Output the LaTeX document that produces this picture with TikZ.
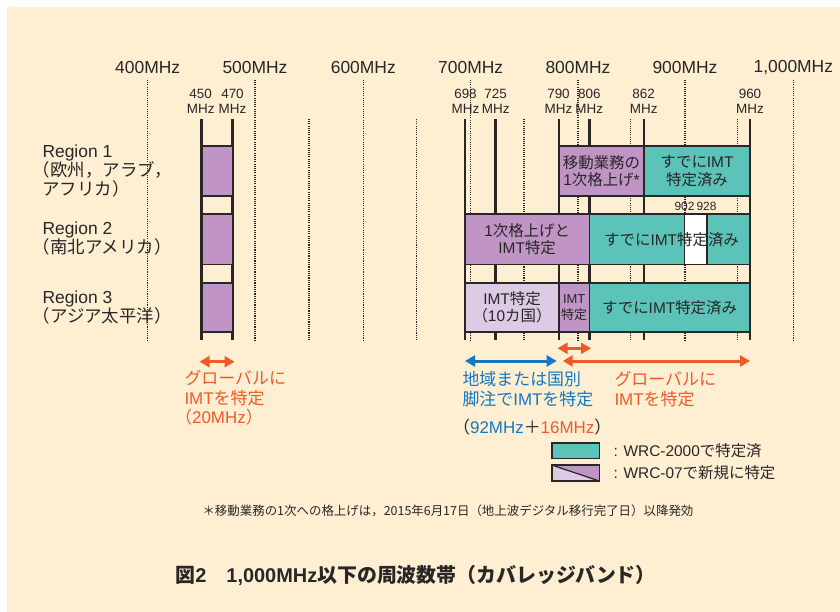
\documentclass[tikz,border=0pt]{standalone}
\usepackage{fontspec}
\setmainfont{Liberation Sans}
\newfontfamily\jp{Noto Sans CJK JP}
\usetikzlibrary{arrows.meta}
\definecolor{bg}{RGB}{254,239,211}
\definecolor{cpur}{RGB}{192,148,197}
\definecolor{cteal}{RGB}{91,195,184}
\definecolor{clav}{RGB}{221,202,228}
\definecolor{corg}{RGB}{240,90,40}
\definecolor{cblue}{RGB}{20,120,195}
\definecolor{ink}{RGB}{40,38,38}
\newcommand\fs[2]{\fontsize{#1}{#2}\selectfont}
\newcommand\bandnode[7]{\node[bandbox,#6,minimum width={(#3-#2)*1bp},minimum height={(#5-#4)*1bp}] (#1) at ({(#2+#3)/2},{(#4+#5)/2}) {#7};}
\begin{document}
\begin{tikzpicture}[x=1bp,y=-1bp,
  dotline/.style={ink, line width=1.1bp, dash pattern=on 1.1bp off 1.1bp},
  solidline/.style={ink, line width=2.6bp},
  bandbox/.style={draw=ink, line width=1.6bp, inner sep=0pt, outer sep=0pt, align=center, text=ink, font=\fs{15.5}{17.5}},
  toplbl/.style={font=\fs{17.5}{20}, text=ink},
  freqlbl/.style={font=\fs{13.5}{15}, align=center, text=ink},
  reglbl/.style={anchor=west, align=left, font=\fs{17.5}{19.5}, text=ink},
  note/.style={anchor=west, align=left, font=\fs{17}{19.5}},
  tips/.style={>={Triangle[length=10bp,width=11bp]}, <->, line width=3bp},
  legtxt/.style={anchor=west, font=\fs{15.5}{18}, text=ink}
]
\fill[white] (0,0) rectangle (840,612);
\fill[bg] (7,7) rectangle (840,612);
\useasboundingbox (0,0) rectangle (840,612);

% top frequency labels
\foreach \x/\t [count=\i] in {147.7/400MHz,255/500MHz,363.3/600MHz,470.7/700MHz,578/800MHz,685/900MHz,793.3/{1,000MHz}}
  \node[toplbl] (top\i) at (\x,68) {\t};

% grid lines
\foreach \x in {147.7,255,363.3,470.7,578,685,793.3} \draw[dotline] (\x,80) -- (\x,340);
\foreach \x in {309,416.7,524,630.7,737.7} \draw[dotline] (\x,119) -- (\x,340);
\foreach \x in {201.7,232.3,465,495.7,559,589.3,644,750} \draw[solidline] (\x,119) -- (\x,340);

% small frequency labels
\foreach \x/\f in {200.7/450,232.5/470,465.5/698,495.7/725,558.5/790,589.3/806,643.7/862,750/960}
  \node[freqlbl] (f\f) at (\x,101.5) {\f\\MHz};

% region labels
\node[reglbl] (reg1) at (39,171) {Region 1\\\leavevmode\kern-.55em{\jp （欧州，アラブ，}\\{\jp アフリカ）}};
\node[reglbl] (reg2) at (39,238.5) {Region 2\\\leavevmode\kern-.55em{\jp （南北アメリカ）}};
\node[reglbl] (reg3) at (39,307.5) {Region 3\\\leavevmode\kern-.55em{\jp （アジア太平洋）}};

% row 1
\bandnode{r1a}{201.7}{232.3}{146}{196}{fill=cpur}{}
\bandnode{r1b}{559}{644}{146}{196}{fill=cpur}{{\jp 移動業務の}\\1{\jp 次格上げ}*}
\bandnode{r1c}{644}{750}{146}{196}{fill=cteal}{{\jp すでに}IMT\\{\jp 特定済み}}
% row 2
\bandnode{r2a}{201.7}{232.3}{214.3}{264.3}{fill=cpur}{}
\bandnode{r2b}{465}{589.3}{214.3}{264.3}{fill=cpur}{1{\jp 次格上げと}\\IMT{\jp 特定}}
\bandnode{r2c}{589.3}{750}{214.3}{264.3}{fill=cteal}{}
\bandnode{r2w}{684.3}{706.7}{214.3}{264.3}{fill=white}{}
\node[text=ink, font=\fs{15.5}{17.5}] (r2ct) at (671.5,240) {{\jp すでに}IMT{\jp 特定済み}};
\node[text=ink, font=\fs{12}{13}] (f902) at (684.5,206.5) {902};
\node[text=ink, font=\fs{12}{13}] (f928) at (706.5,206.5) {928};
% row 3
\bandnode{r3a}{201.7}{232.3}{282.7}{332}{fill=cpur}{}
\bandnode{r3b}{465}{559}{282.7}{332}{fill=clav}{IMT{\jp 特定}\\{\jp （}10{\jp カ国）}}
\bandnode{r3c}{559}{589.3}{282.7}{332}{fill=cpur, font=\fs{13}{16.5}}{IMT\\{\jp 特定}}
\bandnode{r3d}{589.3}{750}{282.7}{332}{fill=cteal}{{\jp すでに}IMT{\jp 特定済み}}

% arrows
\coordinate (a1l) at (199.5,361.7); \coordinate (a1r) at (234.5,361.7);
\coordinate (a2l) at (557.5,348.3); \coordinate (a2r) at (591,348.3);
\coordinate (a3l) at (465,361); \coordinate (a3r) at (556.7,361);
\coordinate (a4l) at (562.7,361); \coordinate (a4r) at (750,361);
\draw[tips, corg] (a1l) -- (a1r);
\draw[tips, corg] (a2l) -- (a2r);
\draw[tips, cblue] (a3l) -- (a3r);
\draw[tips, corg] (a4l) -- (a4r);

% arrow labels
\node[note, text=corg] (glob1) at (181,398) {{\jp グローバルに}\\IMT{\jp を特定}\\\leavevmode\kern-.55em{\jp （}20MHz{\jp ）}};
\node[note, text=cblue] (loc) at (459,389) {{\jp 地域または国別}\\{\jp 脚注で}IMT{\jp を特定}};
\node[note, text=corg] (glob2) at (611,389) {{\jp グローバルに}\\IMT{\jp を特定}};
\node[note, text=ink] (sum) at (459,427.3) {\leavevmode\kern-.55em{\jp （}\textcolor{cblue}{92MHz}{\jp ＋}\textcolor{corg}{16MHz}{\jp ）}};

% legend
\coordinate (l1nw) at (551.7,442.7); \coordinate (l1se) at (599.3,458.3);
\coordinate (l2nw) at (551.7,465); \coordinate (l2se) at (599.3,481);
\fill[cteal] (l1nw) rectangle (l1se);
\draw[ink, line width=1.6bp] (l1nw) rectangle (l1se);
\fill[clav] (l2nw) |- (l2se) -- cycle;
\fill[cpur] (l2nw) -| (l2se) -- cycle;
\draw[ink, line width=1.6bp] (l2nw) rectangle (l2se);
\draw[ink, line width=1.2bp] (l2nw) -- (l2se);
\node[legtxt] (leg1) at (610,450.7) {: WRC-2000{\jp で特定済}};
\node[legtxt] (leg2) at (610,472.7) {: WRC-07{\jp で新規に特定}};

% footnote and title
\node[anchor=west, font=\jp\fs{12.5}{15}, text=ink] (foot) at (199,510.7) {＊移動業務の1次への格上げは，2015年6月17日（地上波デジタル移行完了日）以降発効};
\node[anchor=west, font=\fs{20}{22}\bfseries, text=ink] (title) at (172,575) {{\jp 図}2{\jp 　}1,000MHz{\jp 以下の周波数帯（カバレッジバンド）}};
\end{tikzpicture}
\end{document}
